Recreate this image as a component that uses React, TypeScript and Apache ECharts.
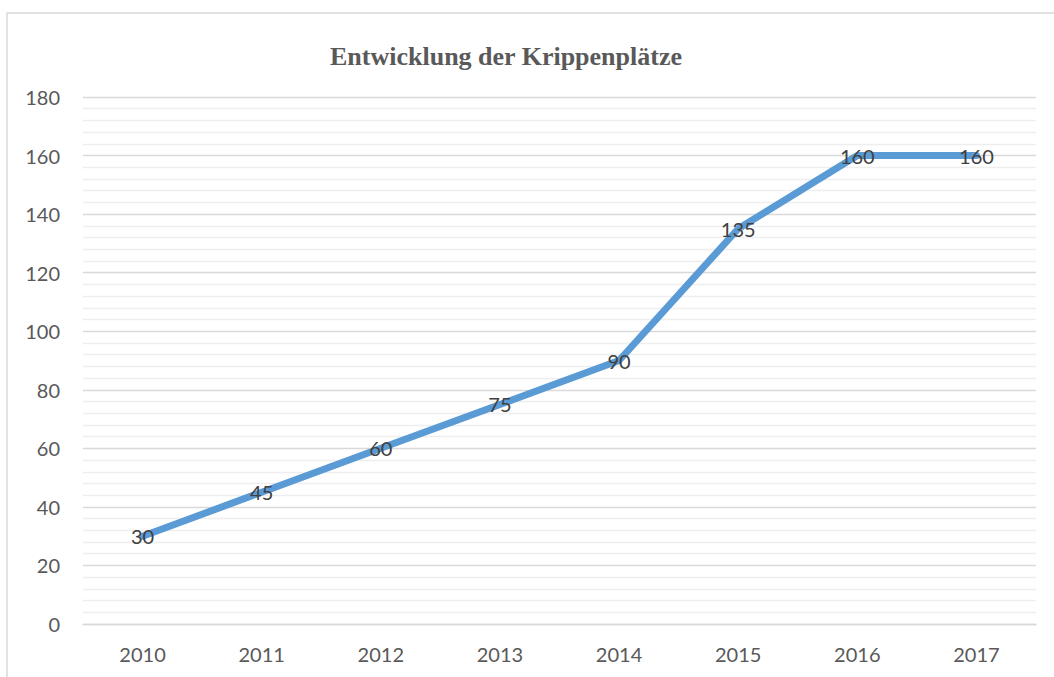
import React, { useEffect, useRef } from "react";
import * as echarts from "echarts";

const years = ["2010", "2011", "2012", "2013", "2014", "2015", "2016", "2017"];
const places = [30, 45, 60, 75, 90, 135, 160, 160];
const titleText = "Entwicklung der Krippenplätze";

export default function App() {
  const ref = useRef<HTMLDivElement>(null);
  useEffect(() => {
    if (!ref.current) return;
    const chart = echarts.init(ref.current, undefined, { renderer: "svg" });
    chart.setOption({
      animation: false,
      backgroundColor: "#ffffff",
      graphic: [
        {
          type: "rect",
          shape: { x: 7, y: 13, width: 1200, height: 800 },
          style: { fill: "none", stroke: "#d9d9d9", lineWidth: 1.5 },
          silent: true,
          z: -1,
        },
      ],
      title: {
        text: titleText,
        left: 501,
        top: 38,
        textAlign: "center",
        textStyle: {
          fontFamily: "Liberation Serif",
          fontWeight: "bold",
          fontSize: 26,
          color: "#595959",
        },
      },
      grid: { left: 83, right: 18, top: 97, bottom: 53 },
      xAxis: {
        type: "category",
        data: years,
        boundaryGap: true,
        axisLine: { show: true, lineStyle: { color: "#d9d9d9", width: 1.3 } },
        axisTick: { show: false },
        axisLabel: {
          color: "#595959",
          fontFamily: "Lato",
          fontSize: 20,
          margin: 20,
        },
      },
      yAxis: {
        type: "value",
        min: 0,
        max: 180,
        interval: 20,
        axisLine: { show: false },
        axisTick: { show: false },
        axisLabel: {
          color: "#595959",
          fontFamily: "Lato",
          fontSize: 20,
          margin: 23,
        },
        splitLine: { show: true, lineStyle: { color: "#d9d9d9", width: 1.3 } },
        minorTick: { show: false, splitNumber: 5 },
        minorSplitLine: { show: true, lineStyle: { color: "#eeeeee", width: 1.3 } },
      },
      series: [
        {
          type: "line",
          data: places,
          symbol: "circle",
          symbolSize: 0,
          showSymbol: true,
          lineStyle: { color: "#5b9bd5", width: 7, cap: "round", join: "round" },
          itemStyle: { color: "#5b9bd5" },
          label: {
            show: true,
            position: "inside",
            color: "#404040",
            fontFamily: "Lato",
            fontSize: 20,
          },
        },
      ],
    });
    return () => chart.dispose();
  }, []);
  return (
    <div
      ref={ref}
      style={{ position: "absolute", left: 0, top: 0, width: 1054, height: 677 }}
    />
  );
}
